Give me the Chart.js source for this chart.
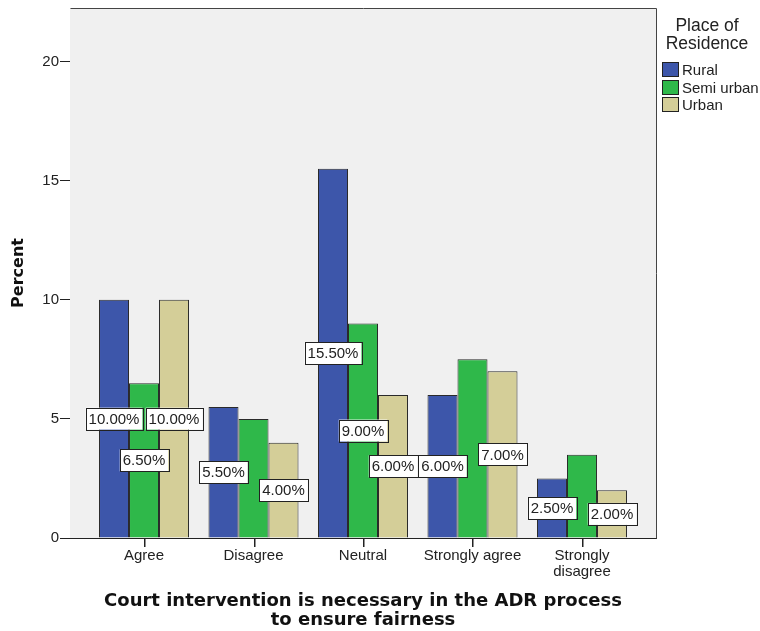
<!DOCTYPE html>
<html lang="en">
<head>
    <meta charset="UTF-8">
    <title>Court intervention by place of residence</title>
    <style>
        body { margin: 0; background: #ffffff; }
        .wrap { position: relative; width: 760px; height: 631px; }
        .legend { position: absolute; left: 660px; top: 16px; width: 100px; font-family: "Liberation Sans", Arial, sans-serif; color: #222; }
        .legend .titulo { text-align: center; font-size: 17.5px; line-height: 18px; margin-left: -6px; }
        .legend .item { display: flex; align-items: center; font-size: 15px; height: 17.6px; }
        .legend .item span.cx { width: 15px; height: 13px; border: 1px solid #222; margin-right: 3px; margin-left: 2px; }
        .legend .itens { margin-top: 9px; }
    </style>
    <script src="https://cdn.jsdelivr.net/npm/chart.js"></script>
</head>
<body>
    <div class="wrap">
        <canvas id="grafico" width="760" height="631"></canvas>
        <div class="legend" id="legenda"></div>
    </div>

    <script>
        // Dados
        const categorias = ['Agree', 'Disagree', 'Neutral', 'Strongly agree', ['Strongly', 'disagree']];
        const rural = [10, 5.5, 15.5, 6, 2.5];
        const semiUrbano = [6.5, 5, 9, 7.5, 3.5];
        const urbano = [10, 4, 6, 7, 2];
        const ticksY = [0, 5, 10, 15, 20];
        const nomesSeries = ['Rural', 'Semi urban', 'Urban'];
        const cores = ['#3d56aa', '#2fb84a', '#d4ce98'];

        const fonte = '"Liberation Sans", Arial, sans-serif';

        // Legenda em HTML (título em duas linhas)
        const leg = document.getElementById('legenda');
        let html = '<div class="titulo">Place of<br>Residence</div><div class="itens">';
        nomesSeries.forEach((n, i) => {
            html += '<div class="item"><span class="cx" style="background:' + cores[i] + '"></span>' + n + '</div>';
        });
        leg.innerHTML = html + '</div>';

        const pontos = arr => arr.map((v, i) => ({ x: i, y: v }));

        // Fundo cinza da área do gráfico, moldura e marcas do eixo x
        const fundo = {
            id: 'fundo',
            beforeDatasetsDraw(chart) {
                const { ctx, chartArea: a } = chart;
                ctx.save();
                ctx.fillStyle = '#f0f0f0';
                ctx.fillRect(a.left, a.top, a.right - a.left, a.bottom - a.top);
                ctx.restore();
            },
            afterDraw(chart) {
                const { ctx, chartArea: a } = chart;
                const sx = chart.scales.x;
                ctx.save();
                ctx.strokeStyle = '#444';
                ctx.lineWidth = 1;
                ctx.beginPath();
                ctx.moveTo(Math.round(a.left) + 0.5, Math.round(a.top) + 0.5);
                ctx.lineTo(Math.round(a.right) + 0.5, Math.round(a.top) + 0.5);
                ctx.lineTo(Math.round(a.right) + 0.5, Math.round(a.bottom) + 0.5);
                ctx.stroke();
                // marcas do eixo x no centro de cada categoria
                ctx.fillStyle = '#222';
                for (let i = 0; i < categorias.length; i++) {
                    const px = Math.round(sx.getPixelForValue(i));
                    ctx.fillRect(px, Math.round(a.bottom), 1.5, 9);
                }
                ctx.restore();
            }
        };

        // Rótulos no meio das barras, escondendo os que se sobrepõem
        const rotulos = {
            id: 'rotulos',
            afterDatasetsDraw(chart) {
                const ctx = chart.ctx;
                const caixas = [];
                ctx.save();
                ctx.font = '15px ' + fonte;
                ctx.textAlign = 'center';
                ctx.textBaseline = 'middle';
                const ordem = [];
                for (let j = 0; j < categorias.length; j++) {
                    chart.data.datasets.forEach((ds, i) => ordem.push([i, j]));
                }
                ordem.forEach(([i, j]) => {
                    const el = chart.getDatasetMeta(i).data[j];
                    const v = chart.data.datasets[i].data[j].y;
                    const txt = v.toFixed(2) + '%';
                    const w = ctx.measureText(txt).width + 6;
                    const h = 22;
                    const cx = el.x;
                    const cy = (el.y + el.base) / 2;
                    const b = { l: cx - w / 2, r: cx + w / 2, t: cy - h / 2, b: cy + h / 2 };
                    const bate = caixas.some(c => b.l < c.r - 1 && b.r > c.l + 1 && b.t < c.b - 1 && b.b > c.t + 1);
                    if (bate) return;
                    caixas.push(b);
                    ctx.fillStyle = '#ffffff';
                    ctx.fillRect(b.l, b.t, w, h);
                    ctx.strokeStyle = '#222';
                    ctx.lineWidth = 1;
                    ctx.strokeRect(Math.round(b.l) + 0.5, Math.round(b.t) + 0.5, Math.round(w), h);
                    ctx.fillStyle = '#222';
                    ctx.fillText(txt, cx, cy + 1);
                });
                ctx.restore();
            }
        };

        const ctx = document.getElementById('grafico').getContext('2d');
        new Chart(ctx, {
            type: 'bar',
            data: {
                datasets: [
                    { label: nomesSeries[0], data: pontos(rural), backgroundColor: cores[0] },
                    { label: nomesSeries[1], data: pontos(semiUrbano), backgroundColor: cores[1] },
                    { label: nomesSeries[2], data: pontos(urbano), backgroundColor: cores[2] }
                ]
            },
            options: {
                responsive: false,
                animation: false,
                layout: { padding: { top: 8, right: 104, left: 0, bottom: 0 } },
                datasets: {
                    bar: {
                        borderColor: '#2a2a2a',
                        borderWidth: 1,
                        categoryPercentage: 0.822,
                        barPercentage: 1
                    }
                },
                scales: {
                    x: {
                        type: 'linear',
                        offset: false,
                        min: -0.676,
                        max: 4.676,
                        afterBuildTicks: s => { s.ticks = categorias.map((c, i) => ({ value: i })); },
                        afterFit: s => { s.height = 93; s.paddingLeft = 0; s.paddingRight = 0; },
                        grid: { offset: false, drawOnChartArea: false, drawTicks: false, color: '#222' },
                        border: { color: '#222' },
                        ticks: {
                            autoSkip: false,
                            maxRotation: 0,
                            padding: 10,
                            color: '#222',
                            font: { family: fonte, size: 15, lineHeight: 1.05 },
                            callback: v => categorias[v]
                        },
                        title: {
                            display: true,
                            text: ['Court intervention is necessary in the ADR process', 'to ensure fairness'],
                            color: '#111',
                            font: { family: '"DejaVu Sans", Verdana, sans-serif', size: 18, weight: 'bold', lineHeight: 1.06 },
                            padding: { top: 0, bottom: 1 }
                        }
                    },
                    y: {
                        min: 0,
                        max: 22.25,
                        afterBuildTicks: s => { s.ticks = ticksY.map(v => ({ value: v })); },
                        afterFit: s => { s.width = 70; s.paddingTop = 0; s.paddingBottom = 0; },
                        grid: { drawOnChartArea: false, tickLength: 10, color: '#222', tickColor: '#222' },
                        border: { color: '#222' },
                        ticks: {
                            padding: 1,
                            color: '#222',
                            font: { family: fonte, size: 15 }
                        },
                        title: {
                            display: true,
                            text: 'Percent',
                            color: '#111',
                            font: { family: '"DejaVu Sans", Verdana, sans-serif', size: 16, weight: 'bold' },
                            padding: { top: 9, bottom: 0 }
                        }
                    }
                },
                plugins: {
                    legend: { display: false },
                    tooltip: { enabled: false }
                }
            },
            plugins: [fundo, rotulos]
        });
    </script>
</body>
</html>
